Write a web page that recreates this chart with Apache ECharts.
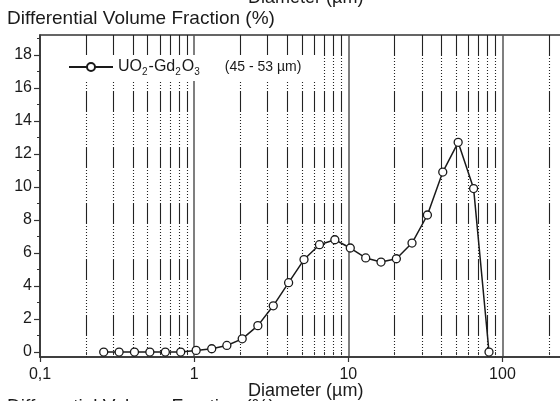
<!DOCTYPE html>
<html>
<head>
<meta charset="utf-8">
<script src="https://cdn.jsdelivr.net/npm/echarts@6/dist/echarts.min.js"></script>
<style>
  html, body { margin: 0; padding: 0; background: #fff; }
  #chart { width: 560px; height: 401px; }
</style>
</head>
<body>
<div id="chart"></div>
<script>
// Particle size distribution: diameter (µm) vs differential volume fraction (%)
const diameters = [
  0.259, 0.326, 0.41, 0.516, 0.65, 0.818,
  1.03, 1.30, 1.63, 2.05, 2.59, 3.26, 4.10, 5.16, 6.50, 8.18,
  10.3, 12.97, 16.3, 20.5, 25.9, 32.6, 41.0, 51.6, 65.0, 81.8
];
const volumeFraction = [
  0, 0, 0, 0, 0, 0,
  0.1, 0.2, 0.4, 0.8, 1.6, 2.8, 4.2, 5.6, 6.5, 6.8,
  6.3, 5.7, 5.45, 5.65, 6.6, 8.3, 10.9, 12.7, 9.9, 0
];
const seriesName = 'UO2-Gd2O3 (45 - 53 µm)';

// Axis tick values
const xMajorTicks = [0.1, 1, 10, 100];
const xMinorTicks = [0.2, 0.3, 0.4, 0.5, 0.6, 0.7, 0.8, 0.9,
                     2, 3, 4, 5, 6, 7, 8, 9,
                     20, 30, 40, 50, 60, 70, 80, 90, 200, 300];
const yMajorTicks = [0, 2, 4, 6, 8, 10, 12, 14, 16, 18];
const yMinorTicks = [1, 3, 5, 7, 9, 11, 13, 15, 17, 19];

const xName = 'Diameter (µm)';
const yName = 'Differential Volume Fraction (%)';

const FONT = '"Liberation Sans", Arial, sans-serif';
const INK = '#1a1a1a';

const chart = echarts.init(document.getElementById('chart'), null, { renderer: 'canvas' });

const points = diameters.map((d, i) => [d, volumeFraction[i]]);

// dotted grid pattern broken by short solid runs
const dotted = [21, 2];
for (let i = 0; i < 11; i++) dotted.push(1, 2);

const xRange = { min: 0.1, max: 300 };
const yRange = { min: -0.3, max: 19.2 };

function fmtX(v) {
  const r = Math.round(v * 1000) / 1000;
  return String(r).replace('.', ',');
}

chart.setOption({
  animation: false,
  backgroundColor: '#fff',
  grid: {
    left: 40, top: 35, width: 536, height: 322,
    containLabel: false,
    outerBoundsMode: 'none',
    show: true, borderColor: '#333', borderWidth: 1.5,
    backgroundColor: 'transparent'
  },
  legend: {
    left: 62, top: 55,
    padding: [4, 20, 4, 6],
    backgroundColor: '#fff',
    itemWidth: 44, itemHeight: 10,
    data: [seriesName],
    formatter: () => '{f|UO}{s|2}{f|-Gd}{s|2}{f|O}{s|3}{p|(45 - 53 µm)}',
    textStyle: {
      fontFamily: FONT, fontSize: 15, color: INK,
      rich: {
        f: { fontFamily: FONT, fontSize: 16, color: INK },
        s: { fontFamily: FONT, fontSize: 10, color: INK, padding: [10, 1, 0, 0] },
        p: { fontFamily: FONT, fontSize: 14, color: INK, padding: [0, 0, 0, 24] }
      }
    }
  },
  xAxis: [
    {
      type: 'log', logBase: 10, min: xRange.min, max: xRange.max,
      position: 'bottom',
      axisLine: { show: true, onZero: false, lineStyle: { color: '#333', width: 1.5 } },
      axisTick: { show: true, inside: false, length: 5, customValues: xMajorTicks,
                  lineStyle: { color: '#333', width: 1.2 } },
      axisLabel: { show: true, customValues: xMajorTicks, margin: 10, formatter: fmtX,
                   fontFamily: FONT, fontSize: 16, color: INK },
      splitLine: { show: true, lineStyle: { color: '#555', width: 1.5, type: 'solid' } },
      minorTick: { show: false }
    },
    {
      type: 'log', logBase: 10, min: xRange.min, max: xRange.max,
      position: 'bottom',
      axisLine: { show: false },
      axisTick: { show: true, inside: false, length: 3, customValues: xMinorTicks,
                  lineStyle: { color: '#333', width: 1 } },
      axisLabel: { show: false },
      splitLine: { show: true, lineStyle: { color: '#222', width: 1.1, type: dotted } }
    }
  ],
  yAxis: [
    {
      type: 'value', min: yRange.min, max: yRange.max,
      position: 'left',
      axisLine: { show: true, onZero: false, lineStyle: { color: '#333', width: 1.5 } },
      axisTick: { show: true, inside: false, length: 6, customValues: yMajorTicks,
                  lineStyle: { color: '#333', width: 1.2 } },
      axisLabel: { show: true, customValues: yMajorTicks, margin: 8,
                   fontFamily: FONT, fontSize: 16, color: INK },
      splitLine: { show: false }
    },
    {
      type: 'value', min: yRange.min, max: yRange.max,
      position: 'left',
      axisLine: { show: false },
      axisTick: { show: true, inside: false, length: 3, customValues: yMinorTicks,
                  lineStyle: { color: '#333', width: 1 } },
      axisLabel: { show: false },
      splitLine: { show: false }
    }
  ],
  graphic: [
    { type: 'text', left: 7, top: 9,
      style: { text: yName, font: '19px ' + FONT, fill: INK } },
    { type: 'text', left: 248, top: 382,
      style: { text: xName, font: '18px ' + FONT, fill: INK } },
    { type: 'text', left: 248, top: -11,
      style: { text: xName, font: '18px ' + FONT, fill: INK } },
    { type: 'text', left: 7, top: 397,
      style: { text: yName, font: '19px ' + FONT, fill: INK } }
  ],
  series: [
    {
      name: seriesName,
      type: 'line',
      xAxisIndex: 0, yAxisIndex: 0,
      data: points,
      symbol: 'circle', symbolSize: 8,
      lineStyle: { color: INK, width: 1.5 },
      itemStyle: { color: '#fff', borderColor: INK, borderWidth: 1.3 },
      z: 5
    }
  ]
});
</script>
</body>
</html>
